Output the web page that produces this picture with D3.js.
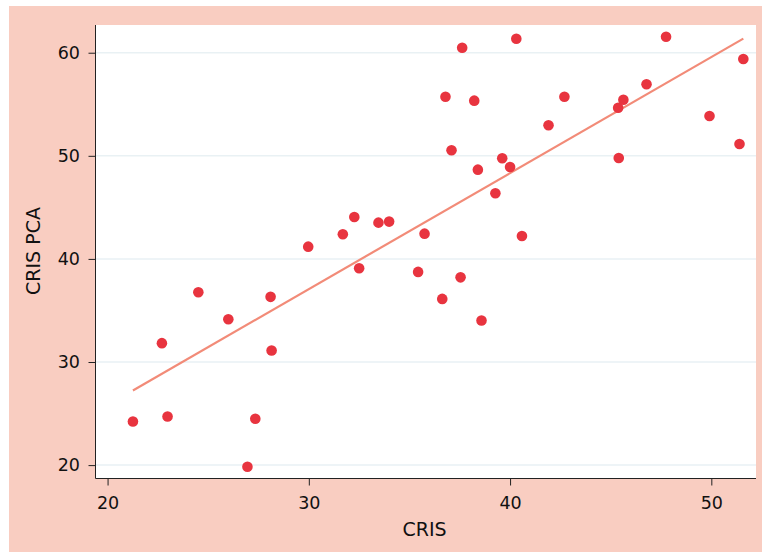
<!DOCTYPE html>
<html lang="en">
<head>
<meta charset="UTF-8">
<title>CRIS vs CRIS PCA</title>
<script src="https://cdn.jsdelivr.net/npm/d3@7"></script>
<style>
  body { margin: 0; background: #fff; }
  text { font-family: "DejaVu Sans", sans-serif; fill: #111; }
</style>
</head>
<body>
<svg id="chart" width="762" height="552"></svg>
<script>
// values
var cris = [21.26, 22.70, 22.98, 24.51, 26.00, 26.95, 27.34, 28.10, 28.15, 29.97,
            31.69, 32.26, 32.50, 33.46, 33.99, 35.43, 35.75, 36.63, 36.79, 37.09,
            37.62, 37.54, 38.22, 38.40, 38.58, 39.27, 39.61, 40.00, 40.31, 40.59,
            41.91, 42.70, 45.37, 45.40, 45.63, 46.78, 47.75, 49.91, 51.40, 51.59];
var crisPca = [24.23, 31.83, 24.71, 36.77, 34.15, 19.84, 24.49, 36.32, 31.11, 41.19,
               42.39, 44.07, 39.10, 43.52, 43.62, 38.74, 42.45, 36.12, 55.73, 50.54,
               60.48, 38.21, 55.35, 48.66, 34.02, 46.37, 49.76, 48.92, 61.36, 42.23,
               52.96, 55.73, 54.67, 49.79, 55.44, 56.94, 61.55, 53.86, 51.15, 59.39];
var xTicks = [20, 30, 40, 50];
var yTicks = [20, 30, 40, 50, 60];

var svg = d3.select("#chart");
var pL = 95.5, pR = 756, pT = 25, pB = 478.5;

// peach outer frame
svg.append("rect").attr("x", 9).attr("y", 6).attr("width", 753).attr("height", 546).attr("fill", "#f9cdc1");
svg.append("rect").attr("x", pL).attr("y", pT).attr("width", pR - pL).attr("height", pB - pT).attr("fill", "#fff");

var x = d3.scaleLinear().domain([19.4, 52.22]).range([pL, pR]);
var y = d3.scaleLinear().domain([18.7, 62.69]).range([pB, pT]);

// grid
svg.append("g").selectAll("line").data(yTicks).enter().append("line")
  .attr("x1", pL).attr("x2", pR)
  .attr("y1", function (d) { return y(d); }).attr("y2", function (d) { return y(d); })
  .attr("stroke", "#e9f1f4").attr("stroke-width", 1.5);

// axes
var yAxis = svg.append("g").attr("transform", "translate(" + pL + ",0)")
  .call(d3.axisLeft(y).tickValues(yTicks).tickSize(7).tickPadding(8.5));
var xAxis = svg.append("g").attr("transform", "translate(0," + pB + ")")
  .call(d3.axisBottom(x).tickValues(xTicks).tickSize(7).tickPadding(11));
[yAxis, xAxis].forEach(function (g) {
  g.select(".domain").remove();
  g.selectAll(".tick line").attr("stroke", "#222");
  g.selectAll(".tick text").attr("font-size", 17.5).attr("fill", "#111")
    .style("font-family", "'DejaVu Sans', sans-serif");
});
yAxis.append("line").attr("x1", 0).attr("x2", 0).attr("y1", pT).attr("y2", pB).attr("stroke", "#222");
xAxis.append("line").attr("x1", pL).attr("x2", pR).attr("y1", 0).attr("y2", 0).attr("stroke", "#222");

// axis titles
svg.append("text").attr("x", 424.5).attr("y", 536)
  .attr("text-anchor", "middle").attr("font-size", 19).text("CRIS");
svg.append("text").attr("transform", "translate(39.5,251) rotate(-90)")
  .attr("text-anchor", "middle").attr("font-size", 19).text("CRIS PCA");

// least squares fit line
var mx = d3.mean(cris), my = d3.mean(crisPca);
var sxy = d3.sum(cris, function (d, i) { return (d - mx) * (crisPca[i] - my); });
var sxx = d3.sum(cris, function (d) { return (d - mx) * (d - mx); });
var slope = sxy / sxx, icpt = my - slope * mx;
var xr = d3.extent(cris);
svg.append("line")
  .attr("x1", x(xr[0])).attr("y1", y(icpt + slope * xr[0]))
  .attr("x2", x(xr[1])).attr("y2", y(icpt + slope * xr[1]))
  .attr("stroke", "#f28b78").attr("stroke-width", 2.2);

// points
svg.append("g").selectAll("circle").data(cris).enter().append("circle")
  .attr("cx", function (d) { return x(d); })
  .attr("cy", function (d, i) { return y(crisPca[i]); })
  .attr("r", 5.3)
  .attr("fill", "#e8343f");
</script>
</body>
</html>
